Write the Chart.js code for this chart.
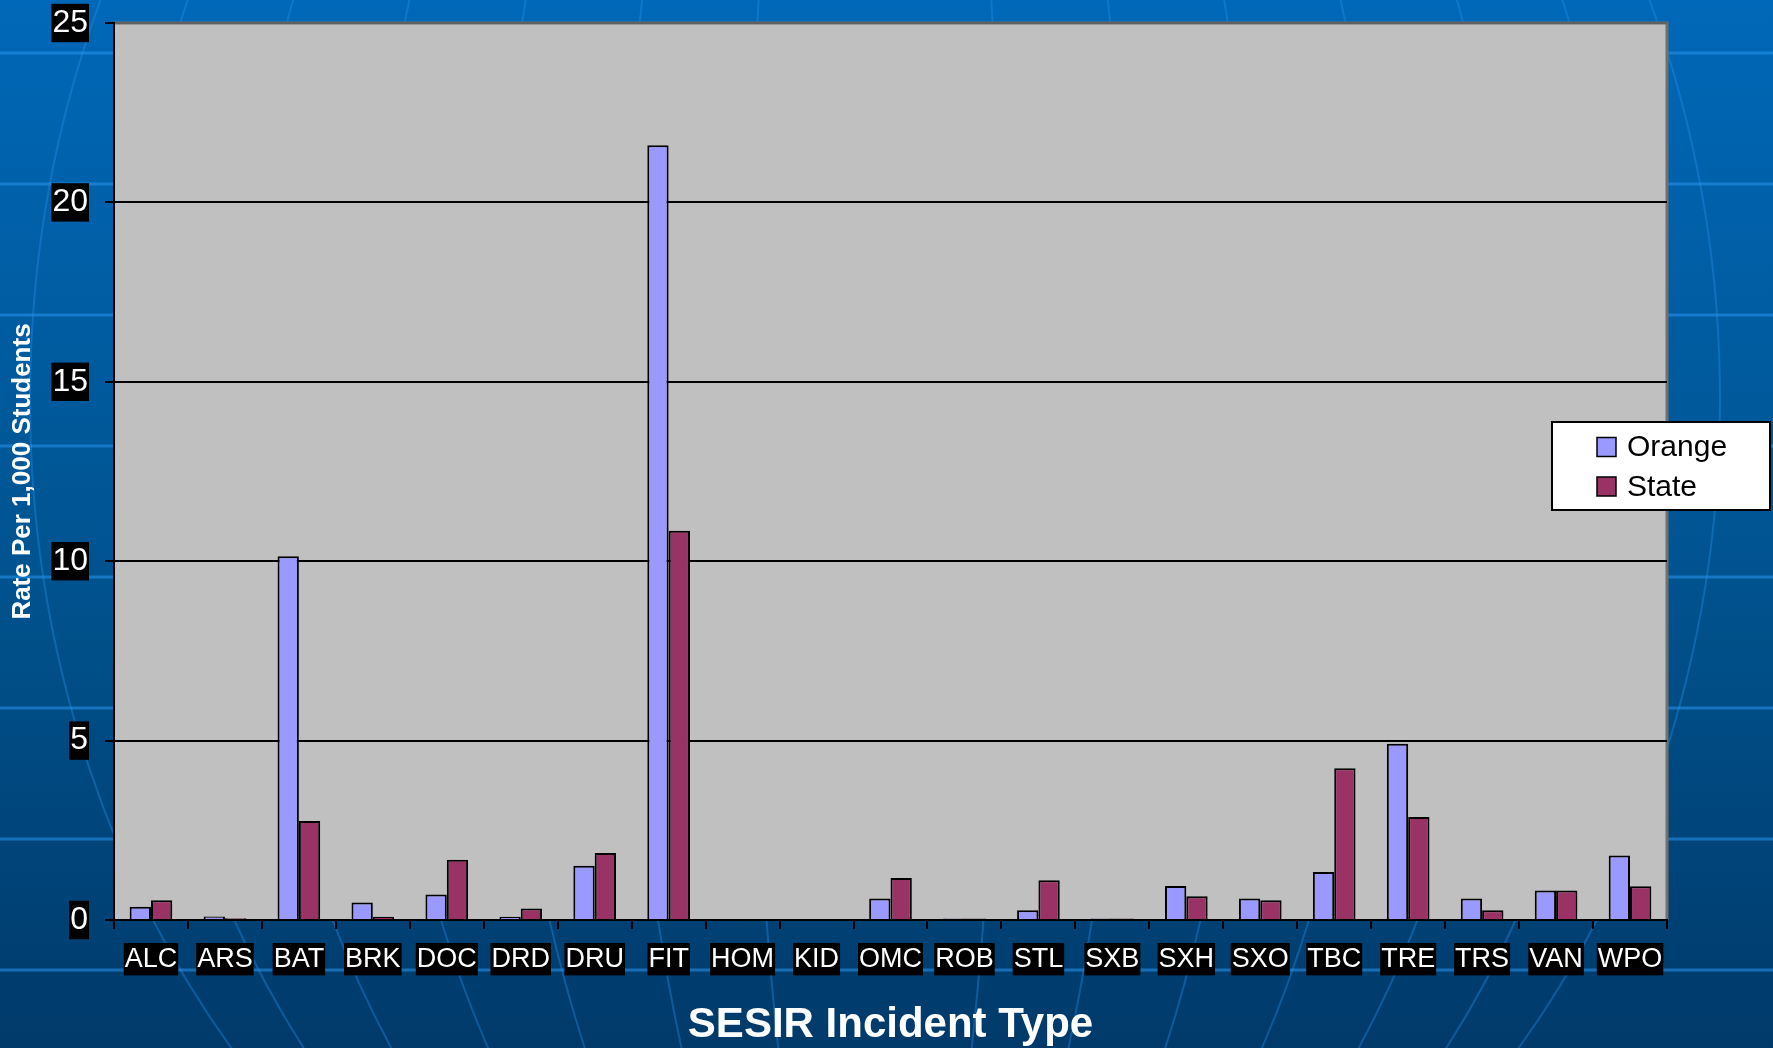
<!DOCTYPE html>
<html>
<head>
<meta charset="utf-8">
<script src="https://cdn.jsdelivr.net/npm/chart.js@4.4.1/dist/chart.umd.min.js"></script>
<style>
html,body{margin:0;padding:0;background:#004a86;overflow:hidden}
canvas{display:block}
</style>
</head>
<body>
<canvas id="c" width="1773" height="1048"></canvas>
<script>
// ---- data ----
const categories = ['ALC','ARS','BAT','BRK','DOC','DRD','DRU','FIT','HOM','KID','OMC','ROB','STL','SXB','SXH','SXO','TBC','TRE','TRS','VAN','WPO'];
const orangeValues = [0.37,0.10,10.14,0.49,0.71,0.09,1.51,21.59,0,0,0.60,0.04,0.27,0.04,0.95,0.60,1.34,4.91,0.60,0.82,1.80];
const stateValues  = [0.55,0.05,2.76,0.09,1.68,0.32,1.87,10.85,0,0,1.17,0.04,1.11,0.04,0.66,0.55,4.23,2.87,0.27,0.82,0.94];
const seriesNames = ['Orange','State'];
const yTicks = [0,5,10,15,20,25];
const xTitle = 'SESIR Incident Type';
const yTitle = 'Rate Per 1,000 Students';

const FONT = "'Liberation Sans', Arial, Helvetica, sans-serif";

const bgPlugin = {
  id: 'bg',
  beforeDraw(chart) {
    const {ctx, width, height, chartArea: a} = chart;
    ctx.save();
    const g = ctx.createLinearGradient(0, 0, 0, height);
    g.addColorStop(0, '#0068b8');
    g.addColorStop(0.55, '#00538f');
    g.addColorStop(1, '#003a6a');
    ctx.fillStyle = g;
    ctx.fillRect(0, 0, width, height);
    // parallels
    ctx.strokeStyle = 'rgba(40,150,240,0.55)';
    ctx.lineWidth = 3;
    for (let y = 53; y < height; y += 131) {
      ctx.beginPath(); ctx.moveTo(0, y); ctx.lineTo(width, y); ctx.stroke();
    }
    // meridians
    ctx.strokeStyle = 'rgba(40,150,240,0.35)';
    ctx.lineWidth = 2;
    const rxs = [127, 254, 381, 508, 635, 750, 845];
    rxs.forEach(rx => {
      ctx.beginPath();
      ctx.ellipse(875, 400, rx, 1000, 0, 0, Math.PI * 2);
      ctx.stroke();
    });
    // plot area
    ctx.fillStyle = '#c0c0c0';
    ctx.fillRect(a.left, a.top, a.right - a.left, a.bottom - a.top);
    ctx.strokeStyle = '#707070';
    ctx.lineWidth = 3;
    ctx.beginPath();
    ctx.moveTo(a.left, a.top); ctx.lineTo(a.right, a.top); ctx.lineTo(a.right, a.bottom);
    ctx.stroke();
    ctx.restore();
  }
};

const legendPlugin = {
  id: 'customLegend',
  afterDraw(chart) {
    const {ctx} = chart;
    const x = 1552, y = 422, w = 218, h = 88;
    ctx.save();
    ctx.fillStyle = '#ffffff';
    ctx.fillRect(x, y, w, h);
    ctx.strokeStyle = '#000000';
    ctx.lineWidth = 2;
    ctx.strokeRect(x, y, w, h);
    ctx.font = '30px ' + FONT;
    ctx.textBaseline = 'middle';
    ctx.textAlign = 'left';
    chart.data.datasets.forEach((ds, i) => {
      const cy = 447 + i * 39.5;
      ctx.fillStyle = ds.backgroundColor;
      ctx.fillRect(1597, cy - 9.5, 19, 19);
      ctx.lineWidth = 1.5;
      ctx.strokeStyle = '#000';
      ctx.strokeRect(1597, cy - 9.5, 19, 19);
      ctx.fillStyle = '#000';
      ctx.fillText(ds.label, 1627, cy + 1);
    });
    ctx.restore();
  }
};

new Chart(document.getElementById('c'), {
  type: 'bar',
  data: {
    labels: categories,
    datasets: [
      { label: seriesNames[0], data: orangeValues, backgroundColor: '#9999ff', borderColor: '#000000', borderWidth: 2 },
      { label: seriesNames[1], data: stateValues, backgroundColor: '#993366', borderColor: '#000000', borderWidth: 2 }
    ]
  },
  options: {
    responsive: false,
    animation: false,
    layout: { padding: { top: 23, right: 106, left: 0, bottom: 0 } },
    datasets: { bar: { categoryPercentage: 0.577, barPercentage: 1.0 } },
    plugins: { legend: { display: false }, tooltip: { enabled: false } },
    scales: {
      x: {
        offset: true,
        afterFit(scale) { scale.height = 128; scale.paddingLeft = 0; scale.paddingRight = 0; },
        grid: { display: true, drawOnChartArea: false, drawTicks: true, tickLength: 9, color: '#000', lineWidth: 2, offset: true },
        border: { display: true, color: '#000', width: 2 },
        ticks: {
          color: '#ffffff',
          font: { family: FONT, size: 27 },
          padding: 14,
          maxRotation: 0,
          autoSkip: false,
          showLabelBackdrop: true,
          backdropColor: '#000000',
          backdropPadding: { x: 1, y: 0 }
        },
        title: {
          display: true,
          text: xTitle,
          color: '#ffffff',
          font: { family: FONT, size: 42, weight: 'bold' },
          padding: { top: 0, bottom: -3 }
        }
      },
      y: {
        min: 0,
        max: 25,
        afterFit(scale) { scale.width = 114; scale.paddingTop = 0; scale.paddingBottom = 0; },
        afterBuildTicks(scale) { scale.ticks = yTicks.map(v => ({ value: v })); },
        grid: {
          color: ctx => (ctx.tick && ctx.tick.value === 25) ? '#606060' : '#000000',
          tickColor: '#000000',
          lineWidth: 2,
          drawTicks: true,
          tickLength: 9
        },
        border: { display: true, color: '#000', width: 2 },
        ticks: {
          color: '#ffffff',
          font: { family: FONT, size: 32 },
          padding: 17,
          showLabelBackdrop: true,
          backdropColor: '#000000',
          backdropPadding: { x: 1, y: 0 }
        },
        title: {
          display: true,
          text: yTitle,
          color: '#ffffff',
          font: { family: FONT, size: 26, weight: 'bold' },
          padding: { top: 7, bottom: 0 }
        }
      }
    }
  },
  plugins: [bgPlugin, legendPlugin]
});
</script>
</body>
</html>
